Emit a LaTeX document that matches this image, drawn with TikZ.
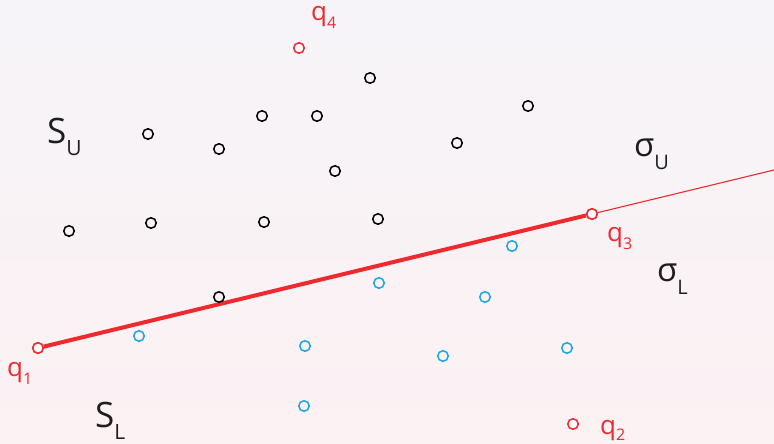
\documentclass[tikz,border=0pt]{standalone}
\usepackage{fontspec}
\setmainfont{Open Sans}
\definecolor{qred}{HTML}{EE2A2F}
\definecolor{qblue}{HTML}{1AA8E4}
\definecolor{bgtop}{HTML}{F6F4F8}
\definecolor{bgbot}{HTML}{FCF1F3}
\definecolor{ink}{HTML}{1E1E1E}
\newcommand{\mylab}[5]{{\fontsize{#3}{#3}\selectfont #1}{\fontsize{#4}{#4}\selectfont\raisebox{-#5pt}{#2}}}
\begin{document}
\begin{tikzpicture}[x=1pt,y=-1pt,
  pt/.style={circle,draw,line width=1.5pt,inner sep=0pt,minimum size=10.5pt,fill=none},
  blk/.style={pt,draw=black},
  blu/.style={pt,draw=qblue},
  rd/.style={pt,draw=qred,fill=white},
  lab/.style={anchor=base west,inner sep=0pt,text=ink},
  qlab/.style={lab,text=qred}]
\shade[top color=bgtop,bottom color=bgbot] (0,0) rectangle (774,444);
\useasboundingbox (0,0) rectangle (774,444);
% red line
\coordinate (e) at (774,170);
\node[rd] (q1) at (38,348) {};
\node[rd] (q3) at (592,214) {};
\draw[qred,line width=1.1pt] (q3) -- (e);
\draw[qred,line width=4pt] (q1) -- (q3);
\node[rd] (q1) at (38,348) {};
\node[rd] (q3) at (592,214) {};
\node[rd] (q4) at (299,48) {};
\node[rd] (q2) at (573,424) {};
% black points
\node[blk] (b1) at (370,78) {};
\node[blk] (b2) at (528,106) {};
\node[blk] (b3) at (262,116) {};
\node[blk] (b4) at (317,116) {};
\node[blk] (b5) at (148,134) {};
\node[blk] (b6) at (219,149) {};
\node[blk] (b7) at (457,143) {};
\node[blk] (b8) at (335,171) {};
\node[blk] (b9) at (69,231) {};
\node[blk] (b10) at (151,223) {};
\node[blk] (b11) at (264,222) {};
\node[blk] (b12) at (378,219) {};
\node[blk] (b13) at (219,297) {};
% blue points
\node[blu] (c1) at (512,246) {};
\node[blu] (c2) at (379,283) {};
\node[blu] (c3) at (485,297) {};
\node[blu] (c4) at (139,336) {};
\node[blu] (c5) at (305,346) {};
\node[blu] (c6) at (443,356) {};
\node[blu] (c7) at (567,348) {};
\node[blu] (c8) at (304,406) {};
% labels
\node[lab] (su) at (47,143) {\mylab{S}{U}{35}{21}{12}};
\node[lab] (sl) at (95,427) {\mylab{S}{L}{35}{21}{12}};
\node[lab] (sgu) at (634,156) {\mylab{σ}{U}{33}{20}{13}};
\node[lab] (sgl) at (657,281) {\mylab{σ}{L}{33}{20}{13}};
\node[qlab] (lq4) at (311,21) {\mylab{q}{4}{26}{16}{8}};
\node[qlab] (lq1) at (7,376) {\mylab{q}{1}{26}{16}{8}};
\node[qlab] (lq3) at (607,241) {\mylab{q}{3}{26}{16}{8}};
\node[qlab] (lq2) at (600,434) {\mylab{q}{2}{26}{16}{6}};
\end{tikzpicture}
\end{document}
